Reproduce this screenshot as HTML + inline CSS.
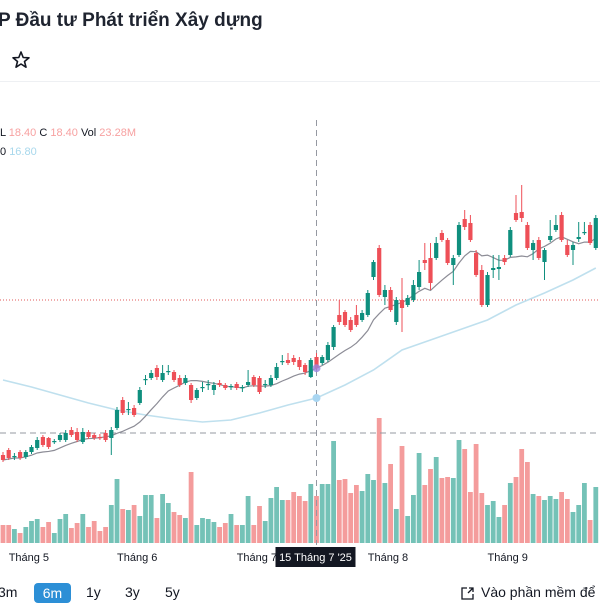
<!DOCTYPE html>
<html><head><meta charset="utf-8">
<style>
body{margin:0;width:600px;height:600px;overflow:hidden;background:#fff;font-family:"Liberation Sans","Noto Sans CJK SC",sans-serif;color:#131722;position:relative}
.t{position:absolute;white-space:nowrap}
</style></head><body>
<div class="t" style="left:-2px;top:10px;font-size:19px;font-weight:bold;color:#1f2430">P Đầu tư Phát triển Xây dựng</div>
<svg style="position:absolute;left:11px;top:50px" width="20" height="20" viewBox="0 0 20 20"><polygon points="10,2 12.2,7.5 18,7.8 13.5,11.5 15,17.2 10,14 5,17.2 6.5,11.5 2,7.8 7.8,7.5" fill="none" stroke="#131722" stroke-width="1.6" stroke-linejoin="round"/></svg>
<div style="position:absolute;left:0;top:81px;width:600px;height:1px;background:#eef0f3"></div>
<div class="t" style="left:0;top:127px;font-size:11px">L <span style="color:#f7a1a1">18.40</span> C <span style="color:#f7a1a1">18.40</span> Vol <span style="color:#f7a1a1">23.28M</span></div>
<div class="t" style="left:0;top:146px;font-size:11px">0 <span style="color:#a8d8ec">16.80</span></div>
<svg id="chart" style="position:absolute;left:0;top:0" width="600" height="600"></svg>
<div class="t" style="left:-2px;top:584px;font-size:14px">3m</div>
<div class="t" style="left:34px;top:583px;width:37px;height:20px;background:#2c8fd6;border-radius:4px;color:#fff;font-size:14px;text-align:center;line-height:20px">6m</div>
<div class="t" style="left:86px;top:584px;font-size:14px">1y</div>
<div class="t" style="left:125px;top:584px;font-size:14px">3y</div>
<div class="t" style="left:165px;top:584px;font-size:14px">5y</div>
<svg style="position:absolute;left:461px;top:587px" width="14" height="13"><path d="M6 1H1v11h11V7M8 1h4v4M12 1 7 6" fill="none" stroke="#131722" stroke-width="1.3"/></svg>
<div class="t" style="left:481px;top:584px;font-size:14px">Vào phần mềm để</div>
<script>
const opens=[15.30,15.40,15.26,15.36,15.26,15.36,15.44,15.66,15.64,15.56,15.60,15.60,15.80,15.76,15.56,15.76,15.70,15.66,15.74,15.64,15.84,16.40,16.20,16.24,16.34,16.80,16.84,17.04,16.80,16.96,16.96,16.84,16.74,16.70,16.44,16.64,16.70,16.60,16.74,16.70,16.66,16.72,16.64,16.70,16.86,16.84,16.70,16.70,16.84,17.16,17.20,17.24,17.20,17.10,16.86,17.26,17.14,17.20,17.46,18.10,18.16,18.00,18.10,18.00,18.10,18.86,19.44,18.46,18.60,17.96,18.40,18.30,18.40,18.66,19.20,19.24,19.24,19.74,19.60,19.10,19.30,20.02,19.94,19.34,19.00,18.30,19.00,19.02,19.24,19.30,20.14,20.16,19.90,19.40,19.60,19.16,19.60,19.80,20.10,19.50,19.40,19.62,19.74,19.90,19.44];
const closes=[15.20,15.24,15.28,15.24,15.36,15.46,15.60,15.50,15.46,15.58,15.70,15.74,15.70,15.60,15.76,15.66,15.64,15.64,15.60,15.80,16.20,16.14,16.22,16.10,16.60,16.82,16.94,16.86,16.94,16.98,16.80,16.70,16.84,16.40,16.60,16.66,16.72,16.70,16.70,16.64,16.68,16.64,16.66,16.76,16.70,16.56,16.72,16.84,17.06,17.18,17.14,17.16,17.06,16.96,17.20,17.04,17.26,17.50,17.86,17.96,17.90,17.80,17.90,18.14,18.54,19.16,18.50,18.60,18.20,18.40,18.24,18.44,18.70,18.96,19.14,18.74,19.54,19.60,19.14,19.24,19.90,19.86,19.60,18.90,18.30,18.90,19.04,19.06,19.16,19.80,20.00,20.04,19.44,19.54,19.24,19.40,19.68,19.90,19.60,19.30,19.50,19.66,19.76,19.54,20.04];
const highs=[15.36,15.44,15.34,15.40,15.40,15.50,15.66,15.70,15.66,15.62,15.74,15.80,15.86,15.84,15.84,15.80,15.74,15.72,15.80,15.86,16.26,16.46,16.36,16.30,16.66,16.90,17.00,17.10,17.10,17.10,17.00,16.90,16.90,16.74,16.64,16.76,16.80,16.76,16.80,16.74,16.72,16.76,16.70,17.00,16.90,16.88,16.80,16.90,17.14,17.30,17.34,17.30,17.26,17.14,17.24,17.34,17.30,17.56,17.90,18.40,18.20,18.06,18.30,18.20,18.60,19.20,19.50,18.70,18.66,18.46,18.84,18.50,18.80,19.20,19.54,19.54,19.66,19.80,19.64,19.30,19.96,20.20,20.10,19.40,19.10,18.96,19.30,19.30,19.30,19.86,20.50,20.70,19.96,19.60,19.66,19.44,20.00,20.10,20.16,19.60,19.56,19.96,19.96,19.96,20.10];
const lows=[15.16,15.20,15.20,15.20,15.22,15.32,15.40,15.46,15.42,15.52,15.56,15.56,15.66,15.56,15.52,15.62,15.60,15.60,15.56,15.30,15.80,16.10,16.10,16.06,16.30,16.70,16.80,16.80,16.76,16.90,16.76,16.66,16.70,16.34,16.40,16.56,16.60,16.50,16.66,16.60,16.60,16.60,16.56,16.66,16.66,16.52,16.64,16.66,16.80,17.10,17.10,17.10,17.00,16.90,16.84,17.00,17.10,17.16,17.40,17.90,17.86,17.76,17.86,17.96,18.06,18.80,18.46,18.30,18.16,17.90,17.76,18.26,18.36,18.60,19.00,18.60,19.20,19.56,19.10,18.70,19.26,19.80,19.56,18.86,18.26,18.26,18.84,18.80,19.10,19.26,19.96,19.96,19.40,19.20,19.20,18.80,19.56,19.76,19.56,19.26,19.10,19.56,19.70,19.50,19.40];
const volumes=[3.6,3.6,2.8,2.0,3.2,4.4,4.8,3.2,4.2,2.0,4.8,5.8,3.0,4.0,5.8,3.2,4.4,2.4,3.2,7.6,12.8,6.8,6.6,7.6,5.4,9.6,9.6,5.0,9.8,8.0,6.2,5.6,5.0,14.2,3.6,5.0,4.8,4.2,3.2,4.0,5.8,3.6,3.6,9.4,3.6,7.4,4.4,9.0,11.2,8.6,8.6,10.2,9.4,8.4,11.8,9.4,11.8,11.8,20.4,12.6,12.8,10.0,11.6,10.4,13.8,12.6,25.0,12.0,15.8,6.8,19.4,5.4,9.6,18.0,11.6,14.8,17.2,13.0,13.2,13.0,20.6,18.8,10.2,19.8,10.0,7.6,8.4,5.2,7.6,12.0,13.2,18.8,16.2,9.8,9.4,8.6,9.4,8.8,10.2,8.8,6.2,7.6,12.0,4.6,11.2];
const longMaIdx=[0,5,10,15,20,25,30,35,40,45,50,55,60,65,70,75,80,85,90,95,100,104];
const longMaVals=[16.80,16.66,16.50,16.34,16.20,16.10,16.02,15.96,16.00,16.14,16.30,16.44,16.70,17.00,17.40,17.60,17.80,18.00,18.30,18.54,18.80,19.04];
const monthLabels=["Tháng 5","Tháng 6","Tháng 7","Tháng 8","Tháng 9"];
const monthIdx=[1,20,41,64,85];
const crossIdx=55, crossLabel="15 Tháng 7 '25", lastPrice=18.40, crossPrice=15.74;

const svg=document.getElementById('chart');const NS='http://www.w3.org/2000/svg';
const xS=i=>3+i*5.7;
const yS=p=>300-(p-18.4)*50;
const vBase=543, vS=v=>vBase-v*5;
function mk(tag,attrs,parent){const e=document.createElementNS(NS,tag);for(const k in attrs)e.setAttribute(k,attrs[k]);(parent||svg).appendChild(e);return e;}
const GREEN='#0f8f7e',RED='#ee4f57',VG='#74c2b7',VR='#f49c9c';
// volume
const vg=mk('g',{});


volumes.forEach((v,i)=>{const up=closes[i]>=opens[i];const r=mk('rect',{x:xS(i)-2.4,y:vS(v),width:4.8,height:vBase-vS(v),fill:up?VG:VR},vg);

});
// price lines
const pl=mk('line',{x1:0,x2:600,y1:yS(lastPrice),y2:yS(lastPrice),stroke:'#e25a5a','stroke-width':1,'stroke-dasharray':'1,2'});


const ch=mk('line',{x1:0,x2:600,y1:yS(crossPrice),y2:yS(crossPrice),stroke:'#9598a1','stroke-width':1,'stroke-dasharray':'6,4'});


const cv=mk('line',{x1:xS(crossIdx),x2:xS(crossIdx),y1:120,y2:545,stroke:'#9598a1','stroke-width':1,'stroke-dasharray':'6,4'});


// long MA
const lm=mk('polyline',{points:longMaIdx.map((k,j)=>xS(k)+','+yS(longMaVals[j])).join(' '),fill:'none',stroke:'#bfe0ee','stroke-width':1.6});


// short MA (10)
const sp=[];closes.forEach((c,i)=>{const s=closes.slice(Math.max(0,i-9),i+1);sp.push(xS(i)+','+yS(s.reduce((a,b)=>a+b,0)/s.length));});
const sm=mk('polyline',{points:sp.join(' '),fill:'none',stroke:'#8c8c96','stroke-width':1.2});


// candles
const cg=mk('g',{});


opens.forEach((o,i)=>{const c=closes[i],up=c>=o,col=up?GREEN:RED,x=xS(i);
const w=mk('line',{x1:x,x2:x,y1:yS(highs[i]),y2:yS(lows[i]),stroke:col,'stroke-width':1},cg);


const t=Math.min(yS(o),yS(c)),h=Math.max(1.2,Math.abs(yS(o)-yS(c)));
const b=mk('rect',{x:x-2.1,y:t,width:4.2,height:h,fill:col},cg);

});
// crosshair markers
const sVals=closes.slice(crossIdx-9,crossIdx+1);
const d1=mk('circle',{cx:xS(crossIdx),cy:yS(sVals.reduce((a,b)=>a+b,0)/10),r:4,fill:'#9b86e0',opacity:0.8});


const d2=mk('circle',{cx:xS(crossIdx),cy:yS(16.44),r:4,fill:'#a9d6f2'});


// x axis labels
monthLabels.forEach((m,j)=>{const t=mk('text',{x:xS(monthIdx[j]),y:561,'font-size':11,fill:'#131722','font-family':'Liberation Sans, sans-serif'});t.textContent=m;

});
const tb=mk('rect',{x:xS(crossIdx)-41,y:547,width:80,height:20,fill:'#131722'});


const tt=mk('text',{x:xS(crossIdx)-1,y:561,'font-size':11,fill:'#fff','text-anchor':'middle','font-family':'Liberation Sans, sans-serif'});tt.textContent=crossLabel;


</script>
</body></html>
